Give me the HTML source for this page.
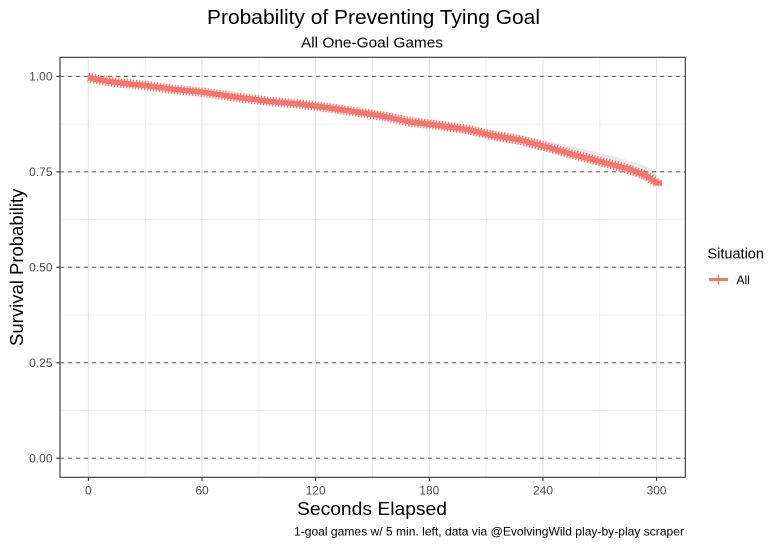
<!DOCTYPE html>
<html><head><meta charset="utf-8"><style>
html,body{margin:0;padding:0;background:#fff;}
svg{display:block;font-family:"Liberation Sans",Arial,sans-serif;}
</style></head><body>
<svg width="778" height="545" viewBox="0 0 778 545" xmlns="http://www.w3.org/2000/svg">
<rect x="0" y="0" width="778" height="545" fill="#fff"/>
<!-- minor grid -->
<g stroke="#EBEBEB" stroke-width="0.8">
<line x1="145.2" y1="57.3" x2="145.2" y2="477.3"/>
<line x1="258.9" y1="57.3" x2="258.9" y2="477.3"/>
<line x1="372.5" y1="57.3" x2="372.5" y2="477.3"/>
<line x1="486.2" y1="57.3" x2="486.2" y2="477.3"/>
<line x1="599.8" y1="57.3" x2="599.8" y2="477.3"/>
<line x1="60" y1="410.5" x2="685.3" y2="410.5"/>
<line x1="60" y1="315.0" x2="685.3" y2="315.0"/>
<line x1="60" y1="219.6" x2="685.3" y2="219.6"/>
<line x1="60" y1="124.1" x2="685.3" y2="124.1"/>
</g>
<!-- major grid -->
<g stroke="#E6E6E6" stroke-width="1.3">
<line x1="88.4" y1="57.3" x2="88.4" y2="477.3"/>
<line x1="202.0" y1="57.3" x2="202.0" y2="477.3"/>
<line x1="315.7" y1="57.3" x2="315.7" y2="477.3"/>
<line x1="429.3" y1="57.3" x2="429.3" y2="477.3"/>
<line x1="543.0" y1="57.3" x2="543.0" y2="477.3"/>
<line x1="656.6" y1="57.3" x2="656.6" y2="477.3"/>
<line x1="60" y1="76.4" x2="685.3" y2="76.4"/>
<line x1="60" y1="171.9" x2="685.3" y2="171.9"/>
<line x1="60" y1="267.3" x2="685.3" y2="267.3"/>
<line x1="60" y1="362.8" x2="685.3" y2="362.8"/>
<line x1="60" y1="458.2" x2="685.3" y2="458.2"/>
</g>
<!-- ribbon -->
<polygon fill="#E8E8E8" points="88,75.5 145,83.5 205,90 270,98.5 330,104.5 385,112.5 440,121 490,129.5 545,140 600,153 625,159.5 645,165.5 657,172 657,188 645,180 625,173 600,166 545,151 490,139 440,129 385,120 330,111 270,104 205,95 145,88 88,79"/>
<!-- dashed hlines -->
<g stroke="#5a5a5a" stroke-width="1" stroke-dasharray="4,4">
<line x1="60" y1="76.4" x2="685.3" y2="76.4"/>
<line x1="60" y1="171.9" x2="685.3" y2="171.9"/>
<line x1="60" y1="267.3" x2="685.3" y2="267.3"/>
<line x1="60" y1="362.8" x2="685.3" y2="362.8"/>
<line x1="60" y1="458.2" x2="685.3" y2="458.2"/>
</g>
<!-- survival curve -->
<g fill="none" stroke-linejoin="round">
<polyline stroke="#F8766D" stroke-width="5.5" points="88,77.5 100,80 120,83 145,85.5 175,89.5 205,92.5 235,97 270,101.5 300,104 330,108 360,112.5 385,116.5 410,122 440,125.5 470,130 490,135 520,140 545,146.5 575,155 600,161.5 625,168 645,175 657,183 662,183"/>
<polyline stroke="#F8766D" stroke-width="9.5" stroke-dasharray="1.3,1.7" points="88,77.5 100,80 120,83 145,85.5 175,89.5 205,92.5 235,97 270,101.5 300,104 330,108 360,112.5 385,116.5 410,122 440,125.5 470,130 490,135 520,140 545,146.5 575,155 600,161.5 625,168 645,175 657,183"/>
</g>
<!-- panel border -->
<rect x="60" y="57.3" width="625.3" height="420" fill="none" stroke="#333" stroke-width="1.1"/>
<!-- ticks -->
<g stroke="#333" stroke-width="1.1">
<line x1="56.3" y1="76.4" x2="60" y2="76.4"/>
<line x1="56.3" y1="171.9" x2="60" y2="171.9"/>
<line x1="56.3" y1="267.3" x2="60" y2="267.3"/>
<line x1="56.3" y1="362.8" x2="60" y2="362.8"/>
<line x1="56.3" y1="458.2" x2="60" y2="458.2"/>
<line x1="88.4" y1="477.3" x2="88.4" y2="481"/>
<line x1="202.0" y1="477.3" x2="202.0" y2="481"/>
<line x1="315.7" y1="477.3" x2="315.7" y2="481"/>
<line x1="429.3" y1="477.3" x2="429.3" y2="481"/>
<line x1="543.0" y1="477.3" x2="543.0" y2="481"/>
<line x1="656.6" y1="477.3" x2="656.6" y2="481"/>
</g>
<!-- tick labels -->
<g fill="#4D4D4D" font-size="12" text-anchor="end">
<text x="52.5" y="80.6">1.00</text>
<text x="52.5" y="176.1">0.75</text>
<text x="52.5" y="271.5">0.50</text>
<text x="52.5" y="367">0.25</text>
<text x="52.5" y="462.4">0.00</text>
</g>
<g fill="#4D4D4D" font-size="12" text-anchor="middle">
<text x="88.4" y="494.5">0</text>
<text x="202.0" y="494.5">60</text>
<text x="315.7" y="494.5">120</text>
<text x="429.3" y="494.5">180</text>
<text x="543.0" y="494.5">240</text>
<text x="656.6" y="494.5">300</text>
</g>
<!-- titles -->
<text x="373.5" y="24" font-size="20" text-anchor="middle" fill="#000" textLength="333" lengthAdjust="spacingAndGlyphs">Probability of Preventing Tying Goal</text>
<text x="372" y="47.7" font-size="15" text-anchor="middle" fill="#000" textLength="142" lengthAdjust="spacingAndGlyphs">All One-Goal Games</text>
<text x="372" y="515" font-size="18.5" text-anchor="middle" fill="#000" textLength="150" lengthAdjust="spacingAndGlyphs">Seconds Elapsed</text>
<text x="684" y="535.7" font-size="12" text-anchor="end" fill="#000" textLength="390" lengthAdjust="spacingAndGlyphs">1-goal games w/ 5 min. left, data via @EvolvingWild play-by-play scraper</text>
<text transform="translate(23,267.3) rotate(-90)" font-size="18.5" text-anchor="middle" fill="#000">Survival Probability</text>
<!-- legend -->
<text x="707.5" y="258.5" font-size="14.5" fill="#000">Situation</text>
<line x1="709" y1="279.5" x2="728" y2="279.5" stroke="#F8766D" stroke-width="3"/>
<line x1="718.5" y1="274.5" x2="718.5" y2="284.5" stroke="#F8766D" stroke-width="1.5"/>
<text x="736.5" y="284" font-size="12" fill="#000">All</text>
</svg>
</body></html>
